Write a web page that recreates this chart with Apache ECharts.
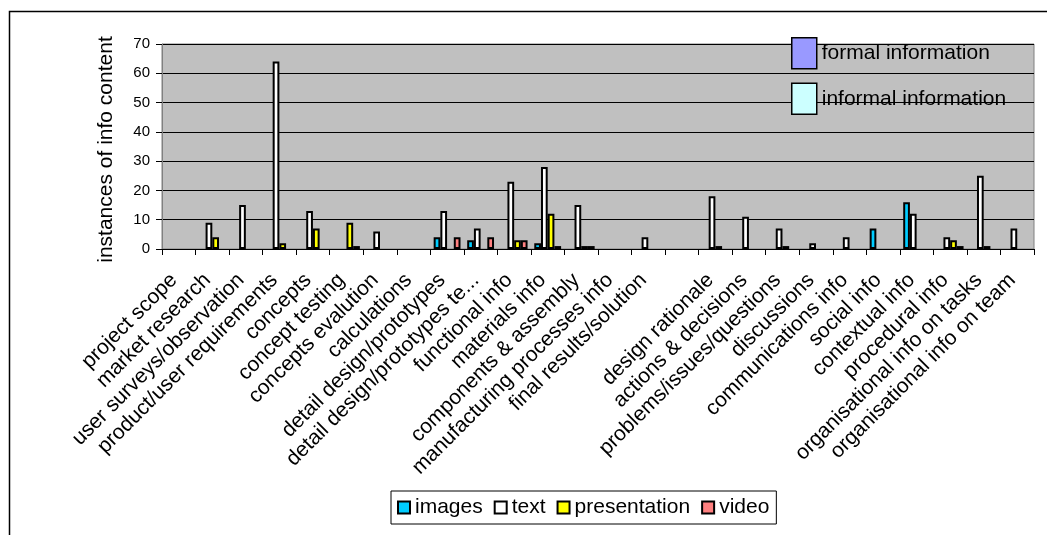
<!DOCTYPE html>
<html>
<head>
<meta charset="utf-8">
<script src="https://cdn.jsdelivr.net/npm/echarts@6/dist/echarts.min.js"></script>
<style>
html,body{margin:0;padding:0;background:#fff;}
#chart{width:1047px;height:535px;}
</style>
</head>
<body>
<div id="chart"></div>
<script>
const categories = ['project scope','market research','user surveys/observation','product/user requirements','concepts','concept testing','concepts evalution','calculations','detail design/prototypes','detail design/prototypes te...','functional info','materials info','components & assembly','manufacturing processes info','final results/solution','','design rationale','actions & decisions','problems/issues/questions','discussions','communications info','social info','contextual info','procedural info','organisational info on tasks','organisational info on team'];
const images       = [0,0,0,0,0,0,0,0,4,3,0,2,0,0,0,0,0,0,0,0,0,7,16,0,0,0];
const text         = [0,9,15,64,13,0,6,0,13,7,23,28,15,0,4,0,18,11,7,2,4,0,12,4,25,7];
const presentation = [0,4,0,2,7,9,0,0,0,0,3,12,1,0,0,0,1,0,1,0,0,0,0,3,1,0];
const video        = [0,0,0,0,0,1,0,0,4,4,3,1,1,0,0,0,0,0,0,0,0,0,0,1,0,0];
const yTicks = { min: 0, max: 70, interval: 10 };

const FONT = '"Liberation Sans", Arial, sans-serif';
const chart = echarts.init(document.getElementById('chart'));
const nz = arr => arr.map(v => v === 0 ? null : v);
function bar(name, data, color) {
  return {
    name, type: 'bar', data: nz(data),
    barGap: '0%', barCategoryGap: '20%',
    itemStyle: { color, borderColor: '#000', borderWidth: 2 },
    emphasis: { disabled: true }
  };
}
chart.setOption({
  animation: false,
  textStyle: { fontFamily: FONT },
  graphic: [{
    type: 'rect', shape: { x: 9.5, y: 11.5, width: 1100, height: 600 },
    style: { fill: null, stroke: '#000', lineWidth: 1.5 }, z: -10, silent: true
  }],
  grid: {
    left: 162, top: 44, right: 13, bottom: 286,
    show: true, backgroundColor: '#C0C0C0', borderColor: '#808080', borderWidth: 1
  },
  legend: [{
    data: ['images', 'text', 'presentation', 'video'],
    left: 391, top: 491,
    padding: [6, 7, 6, 6],
    borderColor: '#000', borderWidth: 1,
    itemWidth: 12, itemHeight: 12, itemGap: 11,
    icon: 'rect',
    textStyle: { fontSize: 21, color: '#000', fontFamily: FONT }
  }, {
    data: [
      { name: 'formal information', icon: 'rect', itemStyle: { color: '#9999FF', borderColor: '#000', borderWidth: 1.5 } },
      { name: 'informal information', icon: 'rect', itemStyle: { color: '#CCFFFF', borderColor: '#000', borderWidth: 1.5 } }
    ],
    orient: 'vertical', left: 791, top: 37, padding: 0,
    itemWidth: 25, itemHeight: 31, itemGap: 13,
    textStyle: { fontSize: 21, color: '#000', fontFamily: FONT }
  }],
  xAxis: {
    type: 'category', data: categories,
    axisLine: { lineStyle: { color: '#000', width: 1 } },
    axisTick: { show: true, length: 6, lineStyle: { color: '#000' } },
    axisLabel: { interval: 0, rotate: 45, fontSize: 21, color: '#000', margin: 23, padding: [0, 7, 0, 0], fontFamily: FONT }
  },
  yAxis: {
    type: 'value', min: yTicks.min, max: yTicks.max, interval: yTicks.interval,
    name: 'instances of info content', nameLocation: 'middle', nameGap: 45, nameRotate: 90,
    nameTextStyle: { fontSize: 21, color: '#000', fontFamily: FONT, padding: [0, 6, 0, 0] },
    axisLine: { show: true, lineStyle: { color: '#808080' } },
    axisTick: { show: true, length: 6, lineStyle: { color: '#000' } },
    axisLabel: { fontSize: 15, color: '#000', margin: 12, fontFamily: FONT },
    splitLine: { lineStyle: { color: '#000', width: 1 } }
  },
  series: [
    bar('images', images, '#00CCFF'),
    bar('text', text, '#FFFFFF'),
    bar('presentation', presentation, '#FFFF00'),
    bar('video', video, '#FF8080'),
    { name: 'formal information', type: 'line', data: [], itemStyle: { color: '#9999FF' } },
    { name: 'informal information', type: 'line', data: [], itemStyle: { color: '#CCFFFF' } }
  ]
});
</script>
</body>
</html>
